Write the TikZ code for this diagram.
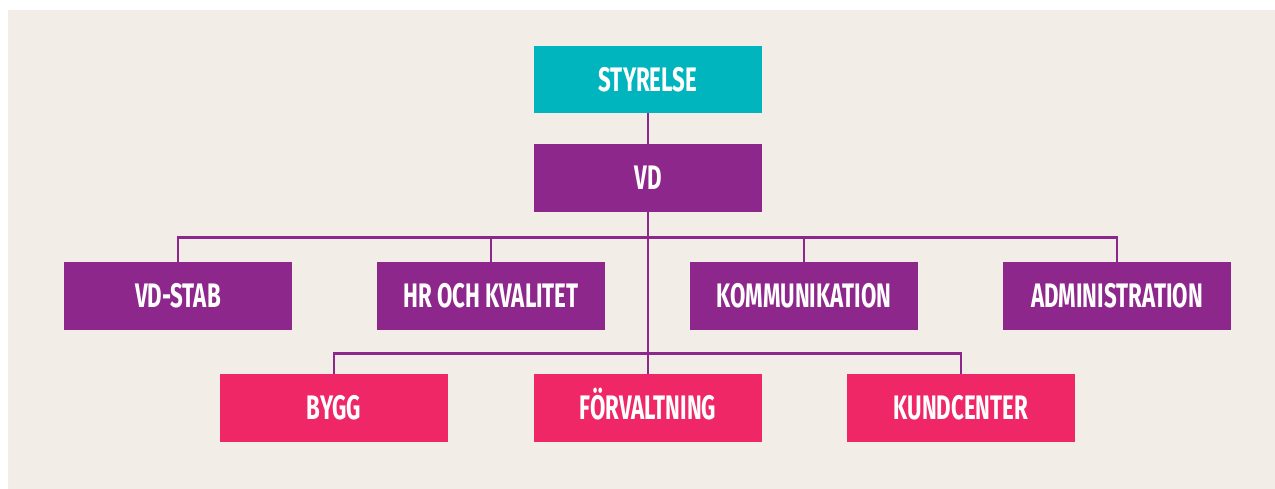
\documentclass[tikz,border=0pt]{standalone}
\usepackage{fontspec}
\setmainfont{Fira Sans}
\definecolor{bg}{HTML}{F2EDE7}
\definecolor{teal}{HTML}{00B5BE}
\definecolor{purp}{HTML}{8E278C}
\definecolor{pink}{HTML}{EF2767}
\newcommand{\lbl}[1]{\scalebox{0.655}[1]{#1}}
\tikzset{
  orgbox/.style={minimum width=228pt, minimum height=67.5pt, inner sep=0pt,
    text=white, font=\fontsize{34}{34}\selectfont\bfseries,
    text height=23.4pt, text depth=0pt},
  tealbox/.style={orgbox, fill=teal},
  purpbox/.style={orgbox, fill=purp},
  pinkbox/.style={orgbox, fill=pink},
  conn/.style={draw=purp, line width=2.7pt}
}
\begin{document}
\begin{tikzpicture}[x=1pt,y=-1pt]
\useasboundingbox (0,0) rectangle (1275,489);
\fill[bg] (8,10) rectangle (1275,489);
\coordinate (b1) at (648,237.5);
\coordinate (b2) at (648,353.5);
\node[tealbox] (sty) at (648,79.5) {\lbl{STYRELSE}};
\node[purpbox] (vd) at (648,178) {\lbl{VD}};
\node[purpbox] (vdstab) at (178,296) {\lbl{VD-STAB}};
\node[purpbox] (hr) at (491,296) {\lbl{HR OCH KVALITET}};
\node[purpbox] (komm) at (804,296) {\lbl{KOMMUNIKATION}};
\node[purpbox] (adm) at (1117,296) {\lbl{ADMINISTRATION}};
\node[pinkbox] (bygg) at (334,408) {\lbl{BYGG}};
\node[pinkbox] (forv) at (648,408) {\lbl{FÖRVALTNING}};
\node[pinkbox] (kund) at (961,408) {\lbl{KUNDCENTER}};
\draw[conn] (sty.south) -- (vd.north);
\draw[conn] (vd.south) -- (forv.north);
\draw[conn] (vdstab.north) |- (b1) -| (adm.north);
\draw[conn] (hr.north) -- (hr.north |- b1);
\draw[conn] (komm.north) -- (komm.north |- b1);
\draw[conn] (bygg.north) |- (b2) -| (kund.north);
\end{tikzpicture}
\end{document}
